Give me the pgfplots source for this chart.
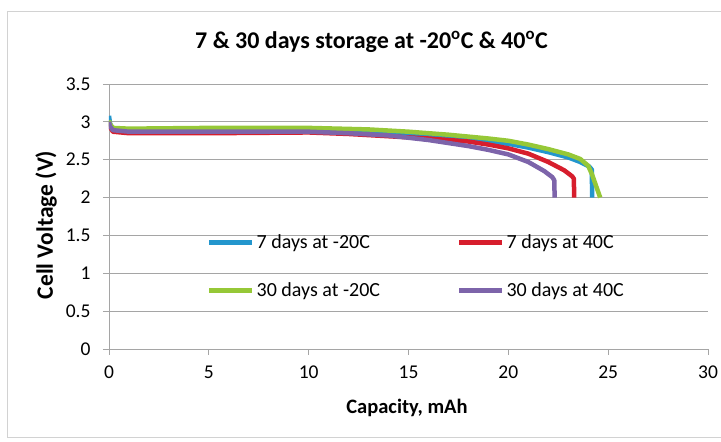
\documentclass[border=0pt]{standalone}
\usepackage{fontspec}
\setmainfont{Carlito}
\usepackage{pgfplots}
\pgfplotsset{compat=1.18}
\definecolor{cblue}{RGB}{35,150,205}
\definecolor{cred}{RGB}{215,30,45}
\definecolor{cgreen}{RGB}{150,200,55}
\definecolor{cpurple}{RGB}{125,100,170}
\definecolor{cgrid}{RGB}{165,165,165}
\begin{document}
\begin{tikzpicture}
\path[use as bounding box] (0pt,0pt) rectangle (721pt,442pt);
\draw[gray!35, line width=1pt] (722pt,430pt) -- (7pt,430pt) -- (7pt,4pt) -- (722pt,4pt);
\node[font=\fontsize{24}{28}\selectfont\bfseries] at (371.5pt,400pt) {7 \& 30 days storage at -20\textsuperscript{o}C \& 40\textsuperscript{o}C};
\begin{axis}[
  at={(109pt,93pt)}, anchor=south west,
  scale only axis, width=599pt, height=265pt,
  xmin=0, xmax=30, ymin=0, ymax=3.5,
  xtick={0,5,...,30}, ytick={0,0.5,...,3.5},
  axis x line*=bottom, axis y line*=left,
  axis line style={cgrid, line width=0.8pt},
  ymajorgrids, grid style={cgrid, line width=0.8pt},
  tick align=outside, major tick length=6pt,
  tick style={cgrid, line width=0.8pt},
  /pgf/number format/assume math mode=true,
  ticklabel style={font=\fontsize{19.5}{22}\selectfont},
  yticklabel style={xshift=-9pt},
  xticklabel style={yshift=-7pt},
  xlabel={Capacity, mAh}, ylabel={Cell Voltage (V)},
  xlabel style={font=\fontsize{20.5}{24}\selectfont\bfseries, at={(axis description cs:0.4975,-0.223)}, anchor=center},
  ylabel style={font=\fontsize{23.5}{26}\selectfont\bfseries, at={(axis description cs:-0.105,0.468)}, anchor=center},
  legend columns=2,
  legend style={draw=none, fill=none, at={(axis description cs:0.1636,0.44)}, anchor=north west,
    font=\fontsize{20}{24}\selectfont, row sep=29pt, inner sep=0pt,
    /tikz/every even column/.append style={column sep=75pt}},
  legend cell align=left,
  legend image code/.code={\draw[#1, line width=4.5pt] (0pt,0pt) -- (43pt,0pt);},
  every axis plot/.append style={line width=4.5pt, line join=round},
]
\addplot[cblue] coordinates {
(0,3.08) (0.05,2.98) (0.15,2.92) (0.4,2.89) (1,2.88) (3,2.88) (6,2.89) (9,2.89) (12,2.88) (14,2.86) (16,2.82) (18,2.77) (20,2.71) (21,2.66) (22,2.60) (23,2.53) (23.6,2.47) (24.05,2.41) (24.18,2.37) (24.2,2.0)
};
\addlegendentry{7 days at -20C}
\addplot[cred] coordinates {
(0,3.0) (0.05,2.93) (0.2,2.87) (1,2.85) (5,2.85) (10,2.86) (12,2.84) (14,2.81) (16,2.78) (18,2.74) (19,2.70) (20,2.65) (21,2.58) (22,2.47) (22.8,2.36) (23.2,2.28) (23.28,2.25) (23.3,2.0)
};
\addlegendentry{7 days at 40C}
\addplot[cgreen] coordinates {
(0,3.02) (0.05,2.97) (0.2,2.92) (1,2.91) (5,2.92) (10,2.92) (13,2.90) (15,2.87) (17,2.83) (19,2.78) (20,2.75) (21,2.70) (22,2.64) (23,2.57) (23.6,2.51) (24.0,2.42) (24.2,2.30) (24.4,2.15) (24.6,2.0)
};
\addlegendentry{30 days at -20C}
\addplot[cpurple] coordinates {
(0,3.0) (0.05,2.94) (0.2,2.89) (1,2.87) (5,2.87) (10,2.87) (12,2.85) (14,2.82) (16,2.76) (18,2.68) (19,2.63) (20,2.57) (21,2.47) (21.8,2.35) (22.2,2.27) (22.3,2.23) (22.32,2.0)
};
\addlegendentry{30 days at 40C}
\end{axis}
\end{tikzpicture}
\end{document}
